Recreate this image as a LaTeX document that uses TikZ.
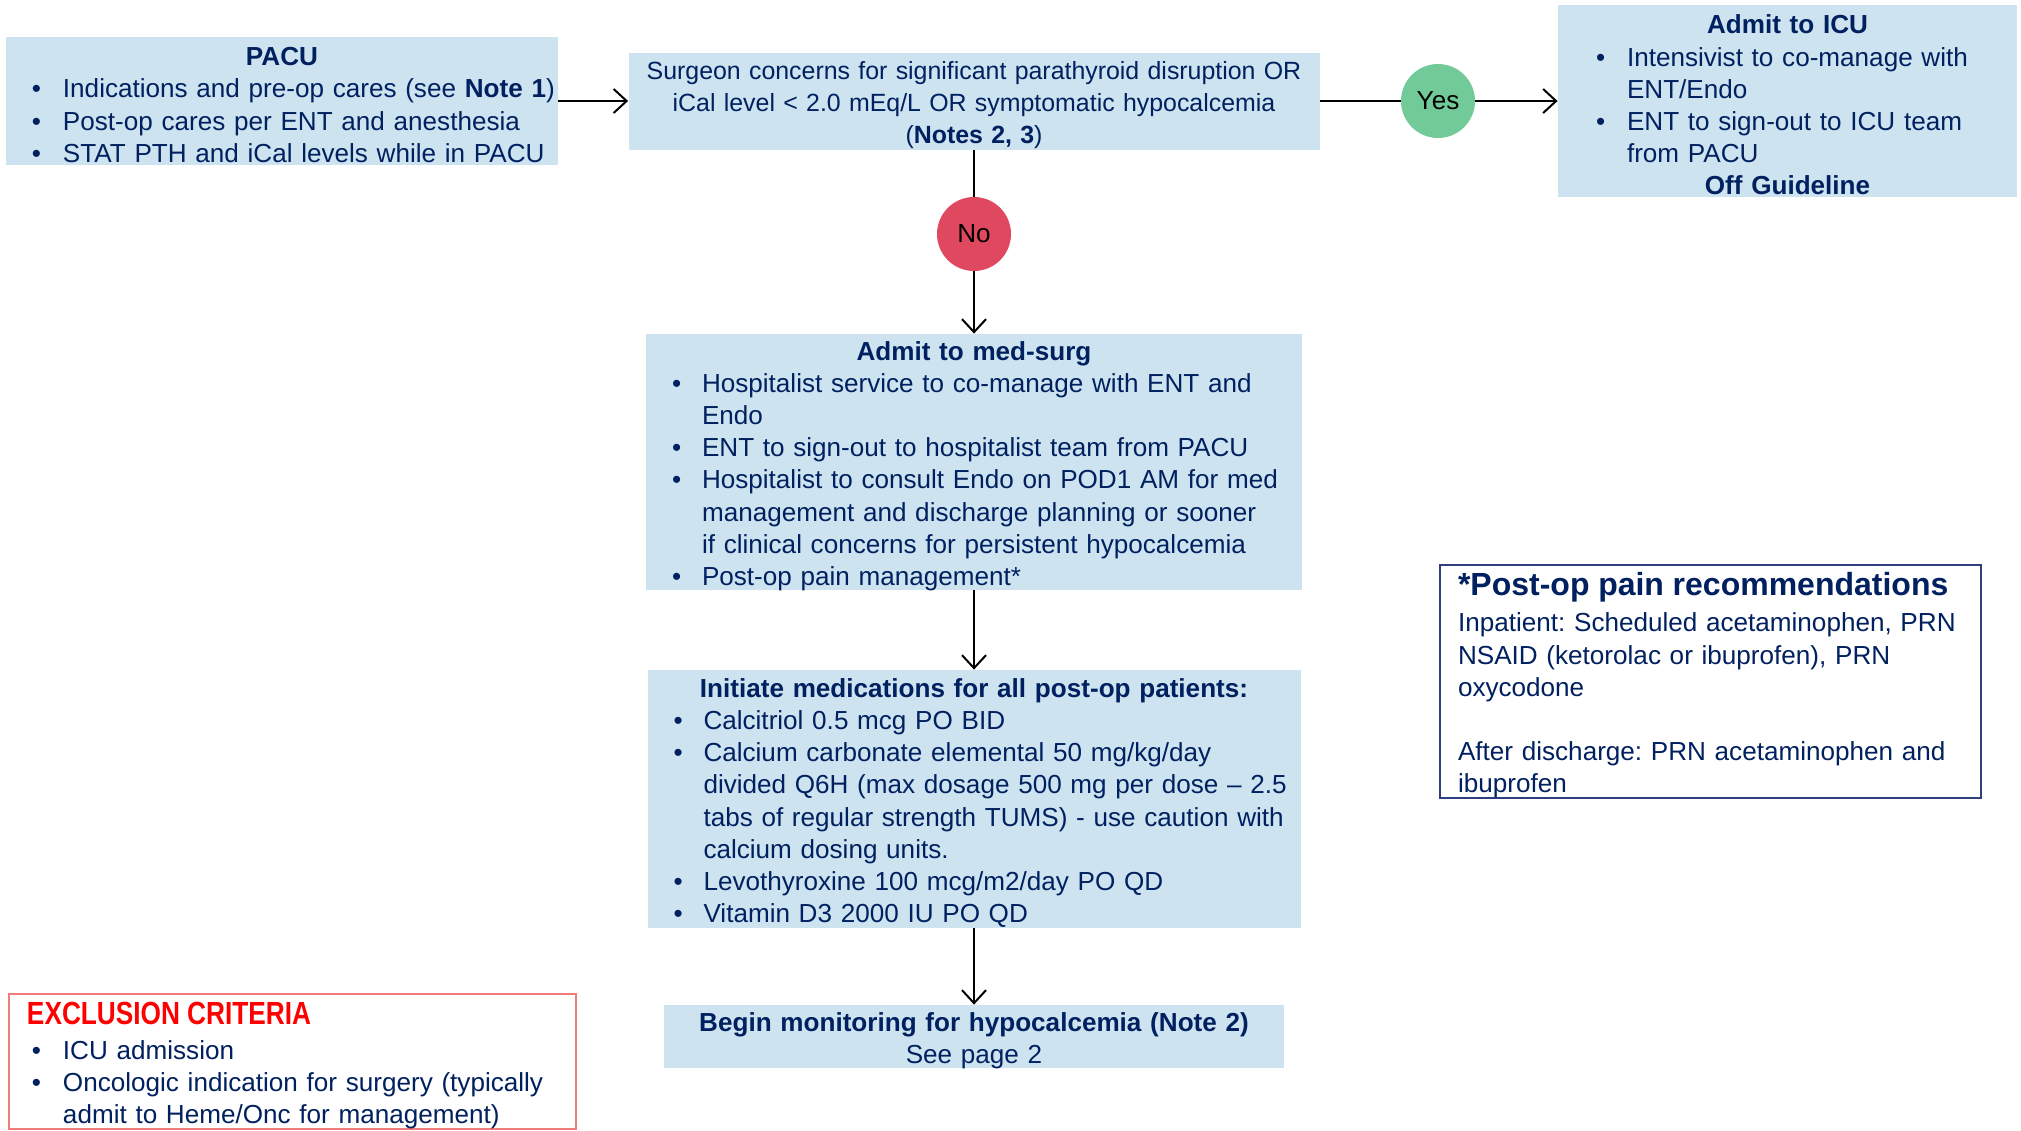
\documentclass[tikz,border=0pt]{standalone}
\usepackage{fontspec}
\setmainfont{Liberation Sans}
\usepackage{graphicx}
\usetikzlibrary{arrows.meta}
\definecolor{navy}{HTML}{002060}
\definecolor{boxblue}{HTML}{CDE3F0}
\definecolor{yesgreen}{HTML}{72CA98}
\definecolor{nored}{HTML}{E04860}
\definecolor{exred}{HTML}{F07C7C}
\definecolor{painblue}{HTML}{2F3F7E}
\setlength{\parindent}{0pt}
\frenchspacing
\newcommand{\bodyfont}{\fontsize{13.05pt}{16.1pt}\selectfont\frenchspacing}
\newcommand{\bitem}[3]{\par\noindent\hangindent=#2\hangafter=1\makebox[#2][l]{\hspace*{#1}\textbullet}#3\par}
\newcommand{\btitle}[1]{{\centering\bfseries #1\par}}
\newcommand{\nl}{\nobreak\hfil\break}
\tikzset{
  box/.style={fill=boxblue, inner xsep=4pt, inner ysep=0pt, font=\bodyfont, text=navy, anchor=center,
    execute at end node={\par\vspace*{-4pt}}},
  circ/.style={circle, inner sep=0pt, minimum size=37pt, font=\bodyfont, text=black},
  arr/.style={-{Straight Barb[length=6.5pt,width=12pt]}, line width=1pt},
  ln/.style={line width=1pt}
}
\begin{document}
\begin{tikzpicture}[x=0.5pt,y=-0.5pt]
\useasboundingbox (0,0) rectangle (2021,1130);

\node[box, text width=268pt, minimum height=64pt] (pacu) at (282,101) {\raggedright
\btitle{PACU}
\bitem{9pt}{24.5pt}{\mbox{Indications and pre-op cares (see \textbf{Note 1})}}
\bitem{9pt}{24.5pt}{\mbox{Post-op cares per ENT and anesthesia}}
\bitem{9pt}{24.5pt}{\mbox{STAT PTH and iCal levels while in PACU}}};

\node[box, text width=337.5pt, minimum height=48.5pt, font=\fontsize{12.45pt}{16.1pt}\selectfont] (surg) at (974,101) {\centering
\mbox{Surgeon concerns for significant parathyroid disruption OR}\\
\mbox{iCal level < 2.0 mEq/L OR symptomatic hypocalcemia}\\
(\textbf{Notes 2, 3})\par};

\node[box, text width=221.5pt, minimum height=96pt] (icu) at (1787.5,101) {\raggedright
\btitle{Admit to ICU}
\bitem{15pt}{30.5pt}{\mbox{Intensivist to co-manage with}\nl\mbox{ENT/Endo}}
\bitem{15pt}{30.5pt}{\mbox{ENT to sign-out to ICU team}\nl\mbox{from PACU}}
\btitle{Off Guideline}};

\node[circ, fill=yesgreen] (yes) at (1438,101) {Yes};
\node[circ, fill=nored] (no) at (974,234) {No};

\node[box, text width=320pt, minimum height=128pt] (medsurg) at (974,462) {\raggedright
\btitle{Admit to med-surg}
\bitem{9pt}{24pt}{\mbox{Hospitalist service to co-manage with ENT and}\nl\mbox{Endo}}
\bitem{9pt}{24pt}{\mbox{ENT to sign-out to hospitalist team from PACU}}
\bitem{9pt}{24pt}{\mbox{Hospitalist to consult Endo on POD1 AM for med}\nl\mbox{management and discharge planning or sooner}\nl\mbox{if clinical concerns for persistent hypocalcemia}}
\bitem{9pt}{24pt}{\mbox{Post-op pain management*}}};

\node[box, text width=318.5pt, minimum height=129pt] (meds) at (974,799) {\raggedright
\btitle{Initiate medications for all post-op patients:}
\bitem{9pt}{24pt}{\mbox{Calcitriol 0.5 mcg PO BID}}
\bitem{9pt}{24pt}{\mbox{Calcium carbonate elemental 50 mg/kg/day}\nl\mbox{divided Q6H (max dosage 500 mg per dose – 2.5}\nl\mbox{tabs of regular strength TUMS) - use caution with}\nl\mbox{calcium dosing units.}}
\bitem{9pt}{24pt}{\mbox{Levothyroxine 100 mcg/m2/day PO QD}}
\bitem{9pt}{24pt}{\mbox{Vitamin D3 2000 IU PO QD}}};

\node[box, text width=302pt, minimum height=31.5pt] (mon) at (974,1036.5) {\centering
\textbf{Begin monitoring for hypocalcemia (Note 2)}\\
See page 2\par};

\node[box, fill=white, draw=exred, line width=1pt, text width=275.5pt, minimum height=67.5pt] (excl) at (292.5,1061.5) {\raggedright
\noindent\hspace*{5pt}\scalebox{0.82}[1]{\fontsize{16pt}{19pt}\selectfont\bfseries\color{red}EXCLUSION CRITERIA}\par
\vspace*{1.4pt}
\bitem{7.5pt}{23pt}{\mbox{ICU admission}}
\bitem{7.5pt}{23pt}{\mbox{Oncologic indication for surgery (typically}\nl\mbox{admit to Heme/Onc for management)}}};

\node[box, fill=white, draw=painblue, line width=0.75pt, inner xsep=9pt, text width=252.5pt, minimum height=116.5pt] (pain) at (1710.5,681.5) {\raggedright
\noindent{\fontsize{16pt}{19pt}\selectfont\bfseries *Post-op pain recommendations}\par
\vspace*{1.9pt}
\noindent\mbox{Inpatient: Scheduled acetaminophen, PRN}\nl\mbox{NSAID (ketorolac or ibuprofen), PRN}\nl\mbox{oxycodone}\par
\noindent\mbox{}\par
\noindent\mbox{After discharge: PRN acetaminophen and}\nl\mbox{ibuprofen}\par};

\draw[arr] (pacu.east) -- (surg.west);
\draw[ln] (surg.east) -- (yes.west);
\draw[arr] (yes.east) -- (icu.west);
\draw[ln] (surg.south) -- (no.north);
\draw[arr] (no.south) -- (medsurg.north);
\draw[arr] (medsurg.south) -- (meds.north);
\draw[arr] (meds.south) -- (mon.north);
\end{tikzpicture}
\end{document}
